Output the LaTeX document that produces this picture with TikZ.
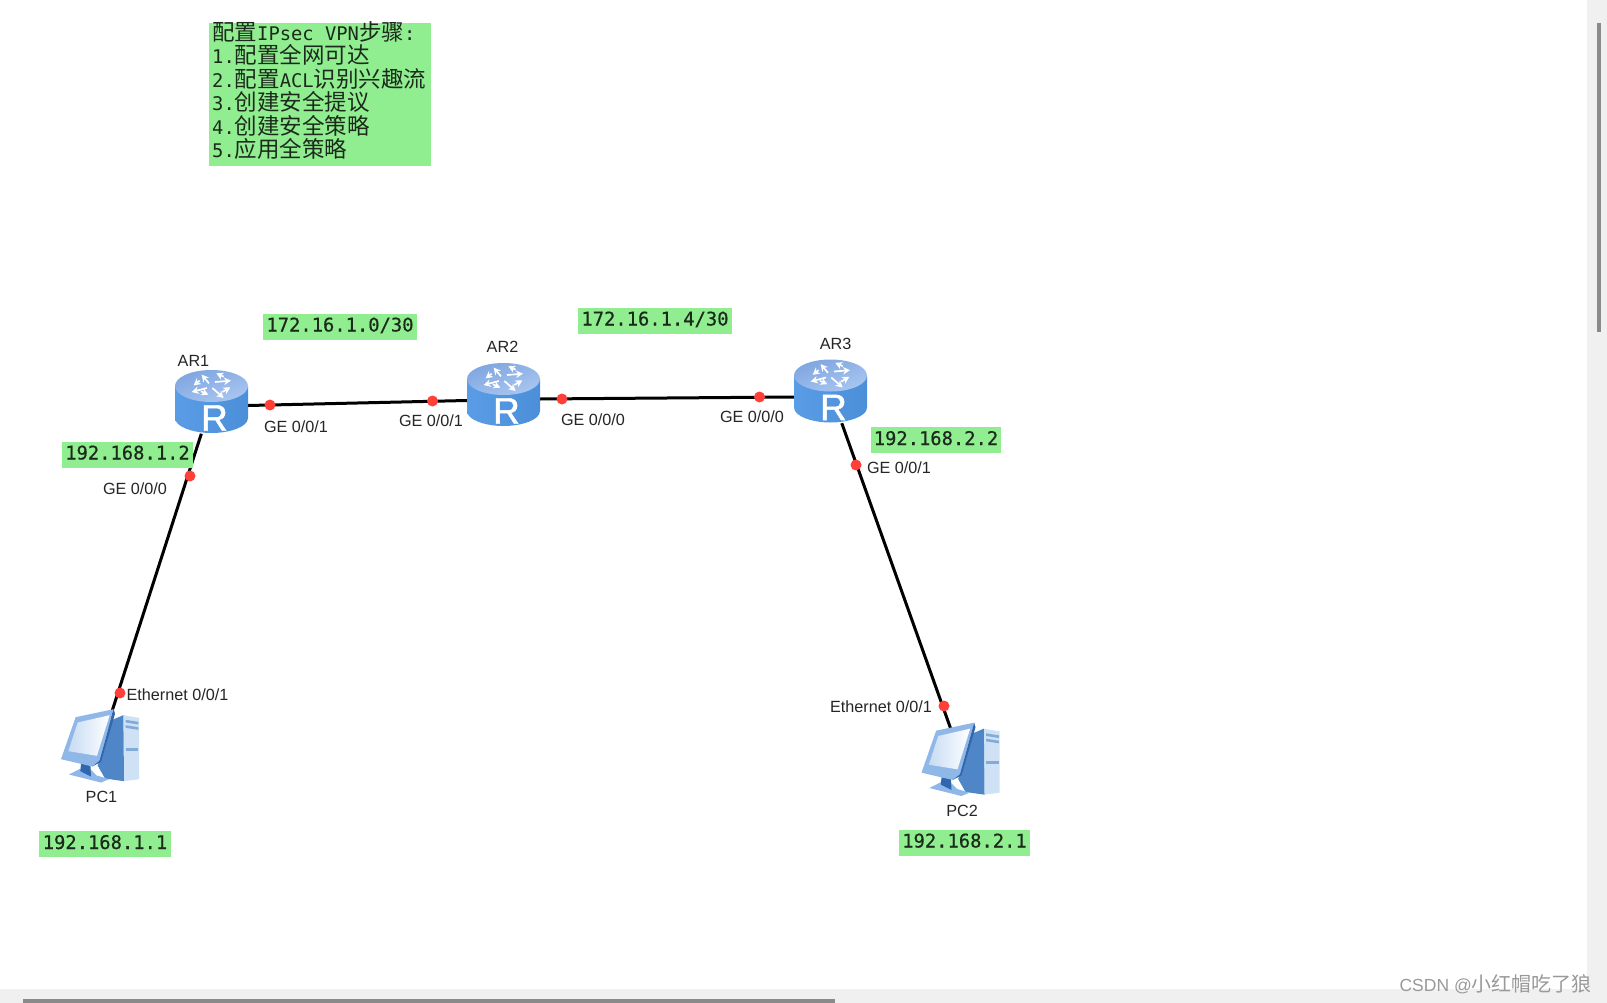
\documentclass[tikz,border=0pt]{standalone}
\usepackage{fontspec}
\usetikzlibrary{arrows.meta,calc}
\setmainfont{Liberation Sans}
\newfontfamily\cjkf{Noto Sans CJK SC}
\newfontfamily\monof{DejaVu Sans Mono}
\newfontfamily\monosemi[FakeBold=0.6]{DejaVu Sans Mono}
\newfontfamily\rfont[FakeBold=1.2]{Liberation Sans}
\newcommand{\cjt}[1]{{\fontsize{22.5}{23.4}\selectfont\cjkf #1}}
\definecolor{labelgreen}{HTML}{90EE90}
\definecolor{barbg}{HTML}{F0F0F0}
\definecolor{thumb}{HTML}{8A8A8A}
\definecolor{dotred}{HTML}{FF4038}
\definecolor{inktext}{HTML}{1C2A1C}
\definecolor{rbodyA}{HTML}{5A9CE6}
\definecolor{rbodyB}{HTML}{8AC2F6}
\definecolor{rbodyC}{HTML}{4C8FD9}
\definecolor{rtopA}{HTML}{7FA6E0}
\definecolor{rtopB}{HTML}{A9C6F0}
\definecolor{pcfront}{HTML}{CFE2F5}
\definecolor{pcside}{HTML}{4F86C8}
\definecolor{pcframe}{HTML}{8FB8E8}
\definecolor{pcdark}{HTML}{2F66AE}
\tikzset{
  iconR/.style={minimum width=73pt,minimum height=63pt,inner sep=0pt},
  iconP/.style={minimum width=78pt,minimum height=75pt,inner sep=0pt},
  link/.style={draw=black,line width=3pt},
  portdot/.style={circle,fill=dotred,minimum size=11pt,inner sep=0pt},
  devlabel/.style={font=\fontsize{16.2}{18}\selectfont,text=black!85,inner sep=0pt},
  iplabel/.style={fill=labelgreen,inner sep=0pt,minimum height=26pt,text height=14pt,text depth=4pt,font=\monosemi\fontsize{18.8}{20}\selectfont,text=inktext},
  rarrow/.style={draw=white,line width=1.7pt,-{Stealth[length=7pt,width=7.5pt]}},
  routericon/.pic={
    \shade[left color=rbodyA,middle color=rbodyB,right color=rbodyC]
      (-36.5,-16) -- (-36.5,16) .. controls (-36.5,25) and (-18,31) .. (0,31)
      .. controls (18,31) and (36.5,25) .. (36.5,16) -- (36.5,-16) -- cycle;
    \shade[left color=rtopA,right color=rtopB,shading angle=20]
      (0,-16) ellipse [x radius=36.5,y radius=16];
    \begin{scope}[scale=1/3,shift={(-139.5,-126)}]
      \draw[rarrow] (132,70) -- (110,44);
      \draw[rarrow] (150,66) -- (198,62);
      \draw[rarrow] (126,84) -- (80,96);
      \draw[rarrow] (142,84) -- (176,114);
      \draw[rarrow] (104,62) -- (86,76);
      \draw[rarrow] (176,50) -- (154,40);
      \draw[rarrow] (108,94) -- (130,104);
      \draw[rarrow] (172,96) -- (196,82);
    \end{scope}
    \node[text=white,font=\rfont\fontsize{37}{37}\selectfont,inner sep=0pt] at (3,16) {R};
  },
  pcicon/.pic={
    \begin{scope}[scale=1/3,shift={(-138,-135)}]
      \fill[pcfront] (205,44) -- (252,52) -- (252,236) -- (207,242) -- cycle;
      \fill[pcside] (172,58) -- (205,44) -- (207,242) -- (150,234) -- (128,195) -- cycle;
      \fill[pcside!70!white] (212,58) -- (250,64) -- (250,72) -- (212,66) -- cycle;
      \fill[pcside!70!white] (212,74) -- (250,80) -- (250,88) -- (212,82) -- cycle;
      \fill[pcside!70!white] (212,142) -- (250,142) -- (250,150) -- (212,150) -- cycle;
      \fill[pcframe] (42,222) -- (75,205) -- (100,200) -- (125,225) -- (162,236) -- (138,246) -- cycle;
      \fill[pcdark] (78,190) -- (106,190) -- (108,228) -- (76,212) -- cycle;
      \fill[pcframe] (18,176) -- (62,50) -- (176,26) -- (134,180) -- (112,198) -- cycle;
      \fill[pcdark] (176,26) -- (180,40) -- (138,184) -- (112,198) -- (134,180) -- cycle;
      \shade[left color=pcframe!50!white,right color=white] (40,152) -- (68,66) -- (164,44) -- (126,166) -- cycle;
    \end{scope}
  },
}
\begin{document}
\begin{tikzpicture}[x=1pt,y=-1pt]
\useasboundingbox (0,0) rectangle (1607,1003);
\fill[white] (0,0) rectangle (1607,1003);
% scroll bars
\fill[barbg] (1587,0) rectangle (1607,1003);
\fill[barbg] (0,989) rectangle (1607,1003);
\fill[thumb] (1597,23) rectangle (1601,332);
\fill[thumb] (23,999) rectangle (835,1003);

% device placeholders
\node[iconR] (ar1) at (211.5,402) {};
\node[iconR] (ar2) at (503.5,395) {};
\node[iconR] (ar3) at (830.5,391.5) {};
\node[iconP] (pc1) at (101,745.5) {};
\node[iconP] (pc2) at (961.5,759) {};

% connectors
\draw[link] ([yshift=-3.5pt]ar1.east) -- ([yshift=-5.5pt]ar2.west);
\draw[link] ([yshift=-4pt]ar2.east) -- ([yshift=-5.5pt]ar3.west);
\draw[link] (ar1) -- (pc1.center);
\draw[link] (ar3) -- (pc2.center);

% icons
\pic at (ar1) {routericon};
\pic at (ar2) {routericon};
\pic at (ar3) {routericon};
\pic at (pc1) {pcicon};
\pic at (pc2) {pcicon};

% port dots
\node[portdot] (d1) at (190,476) {};
\node[portdot] (d2) at (120,693) {};
\node[portdot] (d3) at (270,405) {};
\node[portdot] (d4) at (432.5,401) {};
\node[portdot] (d5) at (562,399) {};
\node[portdot] (d6) at (759.5,397) {};
\node[portdot] (d7) at (856,465) {};
\node[portdot] (d8) at (944,706) {};

% device labels
\node[devlabel] (lar1) at (193.5,361) {AR1};
\node[devlabel] (lar2) at (502.5,347) {AR2};
\node[devlabel] (lar3) at (835.5,344) {AR3};
\node[devlabel] (lpc1) at (101.5,797) {PC1};
\node[devlabel] (lpc2) at (962,811) {PC2};

% port labels
\node[devlabel] (p1) at (296,427) {GE 0/0/1};
\node[devlabel] (p2) at (431,421) {GE 0/0/1};
\node[devlabel] (p3) at (593,420) {GE 0/0/0};
\node[devlabel] (p4) at (752,417) {GE 0/0/0};
\node[devlabel] (p5) at (135,489) {GE 0/0/0};
\node[devlabel] (p6) at (899,468) {GE 0/0/1};
\node[devlabel] (p7) at (177.5,694.5) {Ethernet 0/0/1};
\node[devlabel] (p8) at (881,706.5) {Ethernet 0/0/1};

% address labels
\node[iplabel,minimum width=154pt] (ip1) at (340,326.5) {172.16.1.0/30};
\node[iplabel,minimum width=154pt] (ip2) at (655,320.5) {172.16.1.4/30};
\node[iplabel,minimum width=131pt] (ip3) at (127.5,454.5) {192.168.1.2};
\node[iplabel,minimum width=130pt] (ip4) at (936,440) {192.168.2.2};
\node[iplabel,minimum width=132pt] (ip5) at (105,844) {192.168.1.1};
\node[iplabel,minimum width=131pt] (ip6) at (964.5,842.5) {192.168.2.1};

% steps box
\node[fill=labelgreen,minimum width=222pt,minimum height=143pt,inner sep=0pt,anchor=north west] (box) at (209,23) {};
\node[anchor=north west,inner sep=0pt,align=left,text=inktext,
      font=\monof\fontsize{18.8}{23.4}\selectfont] (steps) at (212,21.5)
 {\cjt{配置}IPsec VPN\cjt{步骤}:\\
  1.\cjt{配置全网可达}\\
  2.\cjt{配置}ACL\cjt{识别兴趣流}\\
  3.\cjt{创建安全提议}\\
  4.\cjt{创建安全策略}\\
  5.\cjt{应用全策略}};

% watermark
\node[anchor=base east,inner sep=0pt,text=black!40] (wm) at (1592,991)
 {\fontsize{17.5}{20}\selectfont CSDN @\fontsize{20}{20}\selectfont\cjkf 小红帽吃了狼};
\end{tikzpicture}
\end{document}
